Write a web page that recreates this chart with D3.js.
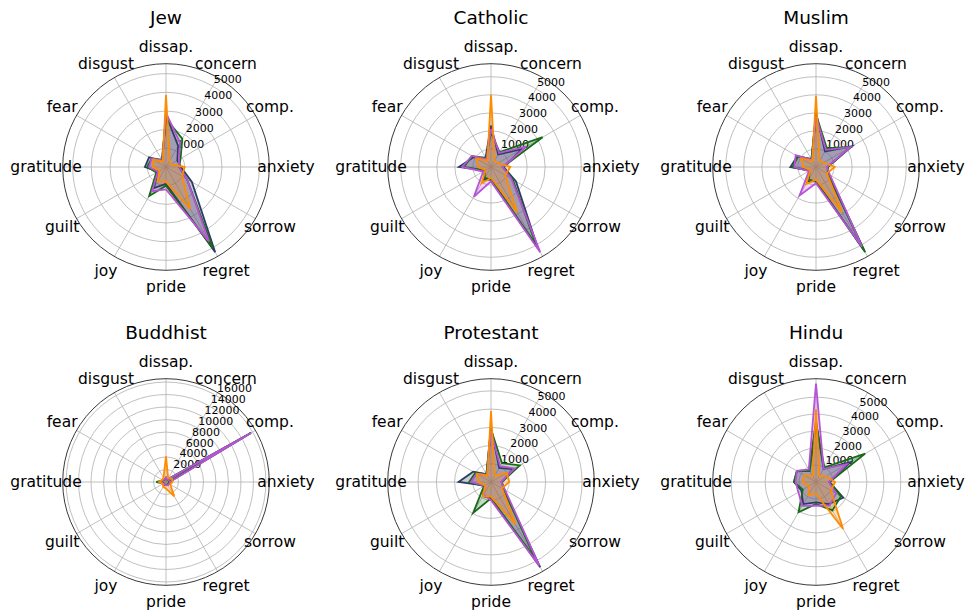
<!DOCTYPE html>
<html>
<head>
<meta charset="utf-8">
<script src="https://cdn.jsdelivr.net/npm/d3@7"></script>
<style>
  body { margin: 0; background: white; }
  text { font-family: "DejaVu Sans", sans-serif; fill: #000; }
</style>
</head>
<body>
<div id="chart"></div>
<script>
// emotion categories, clockwise from the top
const categories = ["dissap.", "concern", "comp.", "anxiety", "sorrow", "regret",
                    "pride", "joy", "guilt", "gratitude", "fear", "disgust"];

const seriesNames = ["navy", "green", "purple", "orange"];
const seriesColors = ["#2c3e60", "#176b17", "#b653d6", "#ff8c00"];

const ticksSmall = [1000, 2000, 3000, 4000, 5000];
const ticksBuddhist = [2000, 4000, 6000, 8000, 10000, 12000, 14000, 16000];

const jew = {
  navy:   [2800, 1300, 700, 800, 1600, 5270, 900, 1300, 500, 1130, 1050, 400],
  green:  [2600, 1750, 900, 700, 1300, 5000, 1000, 1800, 600, 1000, 900, 450],
  purple: [2900, 1500, 800, 700, 1300, 4600, 1200, 1500, 500, 900, 900, 400],
  orange: [3850, 400, 300, 1000, 1000, 2600, 800, 900, 400, 700, 800, 350]
};
const catholic = {
  navy:   [2300, 800, 2000, 700, 1600, 5200, 700, 800, 400, 1780, 1100, 600],
  green:  [1900, 950, 3300, 650, 1400, 5000, 700, 700, 400, 1500, 1220, 550],
  purple: [2100, 900, 2250, 650, 1300, 5450, 800, 1900, 500, 1600, 1220, 500],
  orange: [4000, 400, 450, 1070, 900, 2900, 600, 1050, 350, 700, 950, 400]
};
const muslim = {
  navy:   [3000, 1000, 2300, 650, 750, 5300, 800, 900, 400, 1420, 1200, 500],
  green:  [2900, 1200, 2200, 650, 800, 5450, 800, 800, 400, 1300, 1150, 500],
  purple: [2800, 1100, 2200, 600, 900, 5100, 900, 1820, 450, 1200, 1300, 450],
  orange: [3950, 400, 500, 1040, 700, 2900, 700, 1100, 350, 700, 950, 400]
};
const buddhist = {
  navy:   [700, 450, 15750, 500, 600, 500, 450, 500, 450, 1050, 600, 450],
  green:  [600, 450, 15600, 500, 500, 500, 450, 600, 450, 1550, 500, 450],
  purple: [700, 450, 15700, 600, 600, 600, 500, 500, 450, 950, 600, 450],
  orange: [4100, 700, 1100, 1050, 800, 2650, 1050, 900, 600, 1100, 700, 800]
};
const protestant = {
  navy:   [3000, 900, 1400, 600, 800, 5400, 900, 900, 400, 1780, 1130, 500],
  green:  [2900, 1200, 1830, 600, 800, 4900, 900, 1960, 450, 1200, 1000, 500],
  purple: [2800, 1000, 1500, 550, 900, 5300, 1000, 800, 400, 1100, 900, 450],
  orange: [3900, 400, 1000, 1000, 700, 2700, 800, 900, 350, 700, 900, 400]
};
const hindu = {
  navy:   [3600, 900, 2330, 800, 1860, 1500, 1200, 1500, 1000, 1300, 1300, 800],
  green:  [3400, 1000, 3350, 800, 1700, 1930, 1300, 2060, 900, 1300, 1300, 750],
  purple: [5800, 900, 2100, 750, 1370, 1600, 1400, 1630, 1200, 1200, 1300, 850],
  orange: [4270, 400, 700, 1130, 1000, 3200, 700, 900, 500, 800, 800, 400]
};

const charts = [
  { title: "Jew", data: jew, ticks: ticksSmall },
  { title: "Catholic", data: catholic, ticks: ticksSmall },
  { title: "Muslim", data: muslim, ticks: ticksSmall },
  { title: "Buddhist", data: buddhist, ticks: ticksBuddhist },
  { title: "Protestant", data: protestant, ticks: ticksSmall },
  { title: "Hindu", data: hindu, ticks: ticksSmall }
];

const width = 968, height = 615;
const radius = 103.3;
const colX = [166, 491, 816], rowY = [167, 482];
const step = 2 * Math.PI / categories.length;

const svg = d3.select("#chart").append("svg")
  .attr("width", width)
  .attr("height", height)
  .style("background-color", "white");

charts.forEach(function(c, k) {
  const cx = colX[k % 3], cy = rowY[Math.floor(k / 3)];
  const all = seriesNames.flatMap(s => c.data[s]);
  const rScale = d3.scaleLinear().domain([0, d3.max(all) * 1.05]).range([0, radius]);

  const g = svg.append("g").attr("transform", `translate(${cx},${cy})`);

  // grid circles
  g.selectAll("circle.grid")
    .data(c.ticks)
    .enter().append("circle")
    .attr("r", d => rScale(d))
    .attr("fill", "none")
    .attr("stroke", "#b0b0b0")
    .attr("stroke-width", 0.8);

  // spokes
  g.selectAll("line.spoke")
    .data(categories)
    .enter().append("line")
    .attr("x1", 0).attr("y1", 0)
    .attr("x2", (d, i) => radius * Math.sin(i * step))
    .attr("y2", (d, i) => -radius * Math.cos(i * step))
    .attr("stroke", "#b0b0b0")
    .attr("stroke-width", 0.8);

  // outer frame
  g.append("circle")
    .attr("r", radius)
    .attr("fill", "none")
    .attr("stroke", "#222")
    .attr("stroke-width", 0.9);

  // radial tick labels
  const la = 30 * Math.PI / 180;
  g.selectAll("text.tick")
    .data(c.ticks)
    .enter().append("text")
    .attr("x", d => rScale(d) * Math.sin(la) + 1)
    .attr("y", d => -rScale(d) * Math.cos(la) - 3)
    .attr("font-size", "11px")
    .text(d => d);

  // category labels
  g.selectAll("text.cat")
    .data(categories)
    .enter().append("text")
    .attr("x", (d, i) => 120 * Math.sin(i * step))
    .attr("y", (d, i) => -120 * Math.cos(i * step))
    .attr("dy", "0.35em")
    .attr("text-anchor", "middle")
    .attr("font-size", "15.5px")
    .text(d => d);

  // title
  svg.append("text")
    .attr("x", cx)
    .attr("y", cy - 143.5)
    .attr("text-anchor", "middle")
    .attr("font-size", "18.5px")
    .text(c.title);

  const line = d3.lineRadial()
    .angle((d, i) => i * step)
    .radius(d => rScale(d))
    .curve(d3.curveLinearClosed);

  // fills first, then outlines on top
  seriesNames.forEach(function(s, j) {
    g.append("path")
      .attr("d", line(c.data[s]))
      .attr("fill", seriesColors[j])
      .attr("fill-opacity", 0.25)
      .attr("stroke", "none");
  });
  seriesNames.forEach(function(s, j) {
    g.append("path")
      .attr("d", line(c.data[s]))
      .attr("fill", "none")
      .attr("stroke", seriesColors[j])
      .attr("stroke-width", 1.8)
      .attr("stroke-linejoin", "miter");
  });
});
</script>
</body>
</html>
